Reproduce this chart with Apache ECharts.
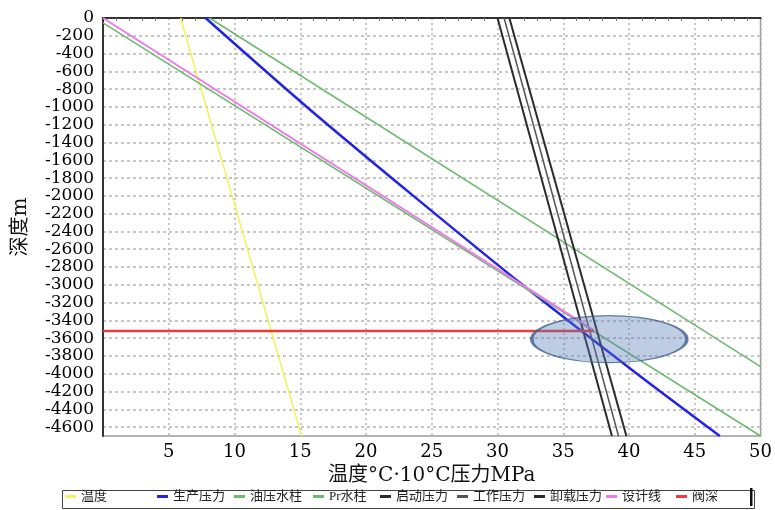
<!DOCTYPE html>
<html>
<head>
<meta charset="utf-8">
<script src="https://cdn.jsdelivr.net/npm/echarts@6/dist/echarts.min.js"></script>
<style>
  html, body { margin: 0; padding: 0; background: #fff; }
  #main { width: 775px; height: 510px; }
</style>
</head>
<body>
<div id="main"></div>
<script>
// 数据: x 为温度(/10 °C)或压力 MPa, depth 为井深 m (向下为正, 轴上显示负号)
const wenduX = [5.9, 15.1];
const wenduDepth = [0, 4700];
const shengchanX = [7.8, 15.5, 23.6, 31.9, 40.6, 46.9];
const shengchanDepth = [0, 1000, 2000, 3000, 4000, 4700];
const youyaX = [8.1, 50];
const youyaDepth = [0, 3920];
const prX = [0, 50];
const prDepth = [55, 4700];
const qidongX = [30.0, 38.7];
const gongzuoX = [30.5, 39.2];
const xiezaiX = [30.9, 39.8];
const blackDepth = [0, 4700];
const shejiX = [0, 37.3];
const shejiDepth = [0, 3510];
const fashenX = [0, 37.3];
const fashenDepth = [3520, 3520];
const areaX = [38.5];
const areaDepth = [3611];

const legendNames = ["温度", "生产压力", "油压水柱", "Pr水柱", "启动压力", "工作压力", "卸载压力", "设计线", "阀深"];
const legendLeft = [65, 157, 234, 313, 380, 457, 534, 606, 676];

const FONT = "'DejaVu Serif', 'Noto Sans CJK SC', serif";
const LEGEND_FONT = "'Liberation Serif', 'Noto Sans CJK SC', serif";

function pairs(xs, ds) {
  return xs.map((x, i) => [x, ds[i]]);
}

function lineSeries(name, xs, ds, color, width) {
  return {
    name: name,
    type: "line",
    data: pairs(xs, ds),
    showSymbol: false,
    symbol: "none",
    lineStyle: { color: color, width: width },
    itemStyle: { color: color },
    animation: false,
    z: 3
  };
}

const chart = echarts.init(document.getElementById("main"), null, { renderer: "canvas" });

const blue = lineSeries("生产压力", shengchanX, shengchanDepth, "#2323e8", 2.5);
blue.smooth = 0.3;

const option = {
  backgroundColor: "#fff",
  animation: false,
  grid: {
    left: 103, right: 13, top: 18, bottom: 74,
    show: true, borderColor: "#9a9a9a", borderWidth: 1.5
  },
  legend: legendNames.map((n, i) => ({
    data: [n],
    left: legendLeft[i],
    top: 490,
    icon: "rect",
    itemWidth: 11,
    itemHeight: 3,
    itemGap: 4,
    padding: 0,
    selectedMode: false,
    textStyle: { fontFamily: LEGEND_FONT, fontSize: 13, color: "#222" }
  })),
  xAxis: {
    type: "value",
    min: 0, max: 50, interval: 5,
    name: "温度°C·10°C压力MPa",
    nameLocation: "middle",
    nameGap: 23,
    nameTextStyle: { fontFamily: FONT, fontSize: 20, color: "#111" },
    axisLine: { lineStyle: { color: "#333", width: 2 } },
    axisTick: { show: false },
    minorTick: { show: true, splitNumber: 5, length: 3, lineStyle: { color: "#777" } },
    axisLabel: {
      showMinLabel: false,
      margin: 7,
      fontFamily: FONT, fontSize: 18, color: "#000"
    },
    splitLine: { show: true, lineStyle: { color: "#b5b5b5", type: [2, 3], width: 1.5 } }
  },
  yAxis: {
    type: "value",
    inverse: true,
    min: 0, max: 4700, interval: 200,
    name: "深度m",
    nameLocation: "middle",
    nameGap: 72,
    nameRotate: 90,
    nameTextStyle: { fontFamily: FONT, fontSize: 20, color: "#111" },
    axisLine: { show: true, lineStyle: { color: "#333", width: 2 } },
    axisTick: { show: false },
    axisLabel: {
      showMinLabel: true,
      showMaxLabel: false,
      margin: 9,
      fontFamily: FONT, fontSize: 17, color: "#000",
      formatter: v => (v === 0 ? "0" : "-" + v)
    },
    splitLine: { show: true, lineStyle: { color: "#b5b5b5", type: [3, 3], width: 1.5 } }
  },
  series: [
    lineSeries("温度", wenduX, wenduDepth, "#f2f25a", 1.5),
    blue,
    lineSeries("油压水柱", youyaX, youyaDepth, "#6cba6c", 1.5),
    lineSeries("Pr水柱", prX, prDepth, "#6cba6c", 1.5),
    lineSeries("启动压力", qidongX, blackDepth, "#2b2b2b", 2),
    lineSeries("工作压力", gongzuoX, blackDepth, "#555555", 1.5),
    lineSeries("卸载压力", xiezaiX, blackDepth, "#2b2b2b", 2),
    lineSeries("设计线", shejiX, shejiDepth, "#ee7aee", 2),
    lineSeries("阀深", fashenX, fashenDepth, "#ee3a3a", 2.5),
    {
      name: "区域",
      type: "scatter",
      data: pairs(areaX, areaDepth),
      symbol: "circle",
      symbolSize: [155, 47],
      itemStyle: {
        color: "rgba(85, 125, 185, 0.48)",
        borderColor: "#3d5f8e",
        borderWidth: 2
      },
      silent: true,
      z: 4
    }
  ],
  graphic: [
    {
      type: "rect",
      left: 60, top: 488,
      shape: { width: 692, height: 18 },
      style: { fill: "none", stroke: "#444", lineWidth: 1 },
      z: -1
    },
    {
      type: "rect",
      left: 750, top: 488,
      shape: { width: 2.5, height: 18 },
      style: { fill: "#111" },
      z: -1
    }
  ]
};

chart.setOption(option);
</script>
</body>
</html>
